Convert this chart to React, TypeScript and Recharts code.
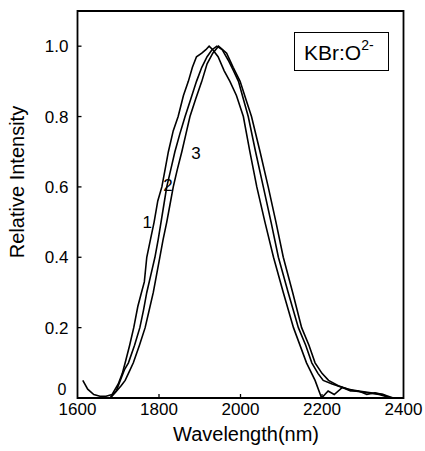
import React from 'react';
import { LineChart, Line, XAxis, YAxis, ReferenceArea, ReferenceDot } from 'recharts';

const wavelength1 = [1613, 1625, 1640, 1655, 1670, 1685, 1700, 1710, 1717, 1728, 1738, 1748, 1757, 1764, 1770, 1779, 1788, 1797, 1807, 1815, 1823, 1835, 1847, 1860, 1872, 1882, 1892, 1905, 1915, 1923, 1932, 1945, 1960, 1974, 1990, 2007, 2023, 2040, 2060, 2081, 2105, 2130, 2162, 2183, 2199, 2215, 2230, 2250, 2270, 2290, 2310, 2330, 2350, 2365];
const intensity1 = [0.05, 0.025, 0.01, 0.005, 0.005, 0.01, 0.04, 0.07, 0.1, 0.15, 0.2, 0.26, 0.3, 0.33, 0.4, 0.45, 0.5, 0.56, 0.6, 0.65, 0.7, 0.76, 0.8, 0.86, 0.9, 0.94, 0.97, 0.98, 0.99, 1.0, 0.99, 0.97, 0.93, 0.9, 0.86, 0.8, 0.7, 0.6, 0.5, 0.4, 0.3, 0.2, 0.1, 0.05, 0.0, 0.02, 0.01, 0.03, 0.02, 0.02, 0.01, 0.015, 0.01, 0.0];

const wavelength2 = [1660, 1680, 1695, 1705, 1715, 1725, 1740, 1753, 1762, 1770, 1780, 1790, 1798, 1805, 1812, 1819, 1829, 1839, 1851, 1864, 1878, 1892, 1905, 1918, 1930, 1942, 1955, 1970, 1983, 1995, 2007, 2019, 2037, 2056, 2075, 2093, 2117, 2142, 2160, 2175, 2190, 2203, 2225, 2250, 2280, 2310, 2340, 2370];
const intensity2 = [0.0, 0.0, 0.02, 0.05, 0.08, 0.1, 0.15, 0.2, 0.25, 0.3, 0.35, 0.4, 0.45, 0.5, 0.55, 0.6, 0.65, 0.7, 0.75, 0.8, 0.85, 0.9, 0.94, 0.97, 0.99, 1.0, 0.99, 0.96, 0.93, 0.9, 0.85, 0.8, 0.7, 0.6, 0.5, 0.4, 0.3, 0.2, 0.15, 0.1, 0.07, 0.05, 0.04, 0.03, 0.02, 0.015, 0.01, 0.0];

const wavelength3 = [1680, 1696, 1707, 1717, 1727, 1737, 1752, 1766, 1776, 1786, 1794, 1802, 1810, 1819, 1827, 1835, 1845, 1856, 1866, 1876, 1890, 1905, 1918, 1932, 1946, 1956, 1966, 1982, 1999, 2013, 2027, 2048, 2068, 2087, 2105, 2128, 2150, 2168, 2183, 2200, 2216, 2240, 2265, 2290, 2320, 2350, 2375];
const intensity3 = [0.0, 0.02, 0.035, 0.05, 0.075, 0.1, 0.15, 0.2, 0.25, 0.3, 0.35, 0.4, 0.45, 0.5, 0.55, 0.6, 0.65, 0.7, 0.75, 0.8, 0.85, 0.9, 0.95, 0.98, 1.0, 0.99, 0.98, 0.94, 0.9, 0.85, 0.8, 0.7, 0.6, 0.5, 0.4, 0.3, 0.2, 0.15, 0.1, 0.07, 0.05, 0.035, 0.025, 0.02, 0.015, 0.01, 0.0];

const xTicks = [1600, 1800, 2000, 2200, 2400];
const yTicks = [0, 0.2, 0.4, 0.6, 0.8, 1.0];

const curveLabels = [
  { name: '1', x: 1771, y: 0.5 },
  { name: '2', x: 1822, y: 0.605 },
  { name: '3', x: 1891, y: 0.696 },
];

const toData = (xs: number[], ys: number[]) => xs.map((x, i) => ({ x, y: ys[i] }));
const series = [
  toData(wavelength1, intensity1),
  toData(wavelength2, intensity2),
  toData(wavelength3, intensity3),
];

const FONT = '"Liberation Sans", Arial, Helvetica, sans-serif';

const renderXTick = (props: any) => {
  const { x, y, payload } = props;
  const v = payload.value;
  return (
    <g>
      {v !== 1600 && v !== 2400 && <line x1={x} y1={y} x2={x} y2={y - 4} stroke="#000" strokeWidth={1.3} />}
      <text x={x} y={y + 17} textAnchor="middle" fontSize={17} fontFamily={FONT} fill="#000">{String(v)}</text>
    </g>
  );
};

const renderYTick = (props: any) => {
  const { x, y, payload } = props;
  const v = payload.value;
  const label = v === 0 ? '0' : Number(v).toFixed(1);
  return (
    <g>
      {v !== 0 && <line x1={x} y1={y} x2={x + 4} y2={y} stroke="#000" strokeWidth={1.3} />}
      <text x={v === 0 ? x - 11 : x - 9} y={v === 0 ? y - 3 : y + 6} textAnchor="end" fontSize={v === 0 ? 16 : 17} fontFamily={FONT} fill="#000">{label}</text>
    </g>
  );
};

export default function App() {
  return (
    <div style={{ position: 'absolute', left: 0, top: 0, width: 425, height: 451, background: '#fff', fontFamily: FONT }}>
      <LineChart width={425} height={451} margin={{ top: 11, right: 21.5, bottom: 23, left: 17.5 }}>
        <XAxis type="number" dataKey="x" domain={[1600, 2400]} ticks={xTicks} height={30} tickSize={0} tickMargin={0} axisLine={false} tickLine={false} tick={renderXTick} allowDataOverflow interval={0} />
        <YAxis type="number" dataKey="y" domain={[0, 1.1]} ticks={yTicks} width={60} tickSize={0} tickMargin={0} axisLine={false} tickLine={false} tick={renderYTick} allowDataOverflow interval={0} />
        <ReferenceArea x1={1600} x2={2400} y1={0} y2={1.1} fill="#fff" fillOpacity={0} stroke="#000" strokeWidth={1.8} />
        {series.map((d, i) => (
          <Line key={i} data={d} dataKey="y" type="linear" stroke="#000" strokeWidth={1.6} dot={false} isAnimationActive={false} />
        ))}
        {curveLabels.map((c) => (
          <ReferenceDot key={c.name} x={c.x} y={c.y} r={0} stroke="none" fill="none"
            label={{ value: c.name, position: 'center', fontSize: 17, fill: '#000', fontFamily: FONT }} />
        ))}
      </LineChart>
      <div style={{ position: 'absolute', left: 17, top: 182, transform: 'translate(-50%, -50%) rotate(-90deg)', whiteSpace: 'nowrap', fontSize: 20, color: '#000' }}>
        Relative Intensity
      </div>
      <div style={{ position: 'absolute', left: 246, top: 434, transform: 'translate(-50%, -50%)', whiteSpace: 'nowrap', fontSize: 20, color: '#000' }}>
        Wavelength(nm)
      </div>
      <div style={{ position: 'absolute', left: 294, top: 32, width: 93, height: 37, border: '1.5px solid #000', boxSizing: 'content-box', color: '#000' }}>
        <div style={{ position: 'absolute', left: 9, top: 8, fontSize: 21, lineHeight: '24px', whiteSpace: 'nowrap' }}>
          KBr:O<span style={{ fontSize: 14, position: 'relative', top: -10 }}>2-</span>
        </div>
      </div>
    </div>
  );
}
